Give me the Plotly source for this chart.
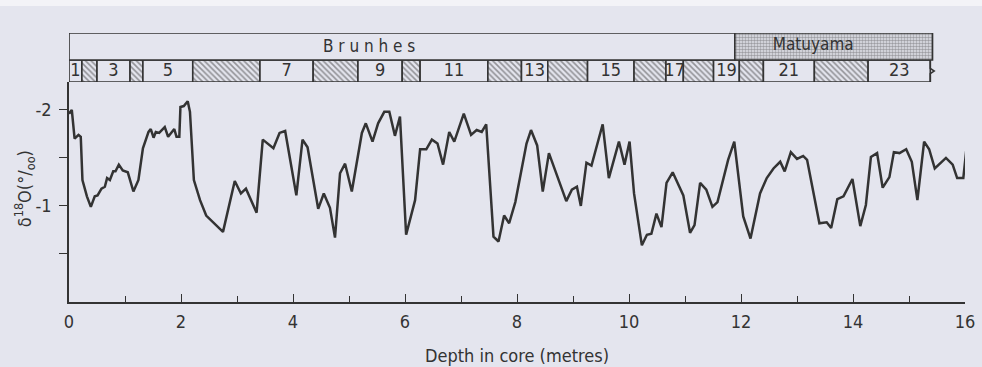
import plotly.graph_objects as go

# Oxygen-isotope record against depth in the core
depth = [0.00, 0.05, 0.10, 0.17, 0.21, 0.24, 0.32, 0.39, 0.46, 0.51, 0.58, 0.64, 0.68, 0.73,
         0.79, 0.83, 0.89, 0.96, 1.05, 1.15, 1.24, 1.32, 1.42, 1.46, 1.51, 1.55, 1.61, 1.71,
         1.77, 1.82, 1.88, 1.92, 1.97, 1.99, 2.05, 2.12, 2.16, 2.23, 2.34, 2.45, 2.75, 2.96,
         3.07, 3.16, 3.35, 3.46, 3.65, 3.76, 3.86, 4.06, 4.17, 4.26, 4.45, 4.55, 4.66, 4.75,
         4.84, 4.93, 5.05, 5.23, 5.30, 5.42, 5.52, 5.63, 5.72, 5.82, 5.91, 6.02, 6.18, 6.27,
         6.38, 6.48, 6.58, 6.68, 6.79, 6.88, 7.05, 7.18, 7.28, 7.37, 7.45, 7.58, 7.67, 7.77,
         7.86, 7.97, 8.17, 8.25, 8.36, 8.46, 8.57, 8.88, 8.98, 9.07, 9.14, 9.24, 9.33, 9.53,
         9.64, 9.82, 9.92, 10.01, 10.09, 10.23, 10.32, 10.40, 10.49, 10.58, 10.67, 10.78,
         10.97, 11.09, 11.17, 11.27, 11.38, 11.49, 11.58, 11.77, 11.88, 12.04, 12.17, 12.34,
         12.46, 12.58, 12.70, 12.78, 12.89, 13.00, 13.11, 13.18, 13.40, 13.53, 13.61, 13.72,
         13.83, 13.99, 14.13, 14.23, 14.32, 14.43, 14.53, 14.65, 14.73, 14.83, 14.95, 15.05,
         15.15, 15.27, 15.36, 15.46, 15.66, 15.78, 15.86, 15.97, 16.03]
d18o = [-1.96, -2.00, -1.70, -1.74, -1.72, -1.27, -1.10, -0.99, -1.10, -1.11, -1.18, -1.20,
        -1.29, -1.27, -1.36, -1.36, -1.43, -1.37, -1.35, -1.15, -1.27, -1.60, -1.77, -1.80,
        -1.71, -1.77, -1.76, -1.82, -1.72, -1.76, -1.80, -1.72, -1.72, -2.03, -2.04, -2.09,
        -1.98, -1.27, -1.06, -0.90, -0.73, -1.26, -1.13, -1.18, -0.93, -1.69, -1.60, -1.76,
        -1.78, -1.11, -1.69, -1.61, -0.97, -1.13, -0.98, -0.67, -1.34, -1.44, -1.15, -1.76,
        -1.86, -1.67, -1.86, -1.98, -1.98, -1.73, -1.93, -0.70, -1.06, -1.59, -1.59, -1.69,
        -1.65, -1.43, -1.77, -1.67, -1.96, -1.74, -1.79, -1.77, -1.85, -0.68, -0.63, -0.90,
        -0.82, -1.04, -1.65, -1.79, -1.63, -1.15, -1.55, -1.05, -1.17, -1.20, -1.00, -1.45,
        -1.42, -1.85, -1.29, -1.67, -1.43, -1.67, -1.13, -0.59, -0.70, -0.71, -0.92, -0.78,
        -1.24, -1.35, -1.11, -0.72, -0.80, -1.24, -1.17, -0.99, -1.04, -1.48, -1.67, -0.89,
        -0.66, -1.13, -1.29, -1.39, -1.46, -1.36, -1.56, -1.49, -1.52, -1.48, -0.82, -0.83,
        -0.77, -1.07, -1.10, -1.28, -0.79, -1.01, -1.51, -1.55, -1.19, -1.30, -1.56, -1.55,
        -1.59, -1.46, -1.06, -1.67, -1.59, -1.39, -1.50, -1.43, -1.29, -1.29, -1.62]

# Isotope stage boundaries (m) for stages 1..23
stage_bounds = [0.00, 0.23, 0.50, 1.09, 1.32, 2.21, 3.41, 4.36, 5.16, 5.95, 6.27, 7.48, 8.08,
                8.55, 9.26, 10.09, 10.66, 10.97, 11.51, 11.97, 12.40, 13.31, 14.27, 15.38]
stage_numbers = list(range(1, 24))

# Magnetic epochs
epoch_names = ["B r u n h e s", "Matuyama"]
epoch_bounds = [0.00, 11.89, 15.42]
epoch_label_x = [5.36, 13.29]

x_tickvals = list(range(0, 17, 2))
x_ticktext = [str(v) for v in x_tickvals]
y_tickvals = [-2, -1]
y_ticktext = ["-2", "-1"]
y_minorvals = [-1.5, -0.5]

BG = "#e4e5ee"
INK = "#333333"
FONT = "Liberation Sans Narrow, DejaVu Sans Condensed, Roboto Condensed, Liberation Sans, sans-serif"

fig = go.Figure()

fig.add_trace(go.Scatter(
    x=depth, y=d18o, mode="lines",
    line=dict(color=INK, width=2.5), xaxis="x", yaxis="y", showlegend=False,
))

# Stage strip: even (glacial) stages hatched
s_mid = [(a + b) / 2 for a, b in zip(stage_bounds[:-1], stage_bounds[1:])]
s_wid = [b - a for a, b in zip(stage_bounds[:-1], stage_bounds[1:])]
fig.add_trace(go.Bar(
    x=s_mid, width=s_wid, y=[1] * len(s_mid), base=[0] * len(s_mid),
    xaxis="x", yaxis="y2", showlegend=False, hoverinfo="skip",
    marker=dict(
        color=BG,
        line=dict(color=INK, width=1.6),
        pattern=dict(shape=["\\" if n % 2 == 0 else "" for n in stage_numbers],
                     fgcolor="#404040", bgcolor=BG, size=4, solidity=0.4),
    ),
))

# Magnetic epoch strip
e_mid = [(a + b) / 2 for a, b in zip(epoch_bounds[:-1], epoch_bounds[1:])]
e_wid = [b - a for a, b in zip(epoch_bounds[:-1], epoch_bounds[1:])]
fig.add_trace(go.Bar(
    x=e_mid, width=e_wid, y=[1.23] * len(e_mid), base=[1] * len(e_mid),
    xaxis="x", yaxis="y2", showlegend=False, hoverinfo="skip",
    marker=dict(
        color=BG,
        line=dict(color=INK, width=1.6),
        pattern=dict(shape=["", "."], fgcolor="#555555", bgcolor=BG, size=3, solidity=0.55),
    ),
))

# Odd stage numbers
odd_x = [m for m, n in zip(s_mid, stage_numbers) if n % 2 == 1]
odd_t = [str(n) for n in stage_numbers if n % 2 == 1]
fig.add_trace(go.Scatter(
    x=odd_x, y=[0.5] * len(odd_x), mode="text", text=odd_t,
    textfont=dict(family=FONT, size=18, color=INK),
    xaxis="x", yaxis="y2", showlegend=False, hoverinfo="skip", cliponaxis=False,
))

# Epoch names
fig.add_trace(go.Scatter(
    x=epoch_label_x, y=[1.58, 1.66], mode="text", text=epoch_names,
    textfont=dict(family=FONT, size=17, color=INK),
    xaxis="x", yaxis="y2", showlegend=False, hoverinfo="skip", cliponaxis=False,
))

# Break mark closing the stage strip
end = stage_bounds[-1]
fig.add_shape(type="path", xref="x", yref="y2",
              path=f"M {end},1 L {end},0.62 L {end + 0.07},0.5 L {end},0.38 L {end},0",
              line=dict(color=INK, width=1.6))

fig.add_shape(type="rect", xref="paper", yref="paper", x0=-0.1, x1=1.1, y0=1.1, y1=1.2,
              fillcolor="#f3f3f7", line=dict(width=0), layer="below")

fig.add_annotation(
    text="δ<sup>18</sup>O(°/<sub>oo</sub>)", textangle=-90,
    xref="paper", yref="paper", x=-0.05, y=0.42, xanchor="center", yanchor="middle",
    showarrow=False, font=dict(family=FONT, size=18, color=INK),
)

fig.update_layout(
    width=982, height=367,
    margin=dict(l=69, r=17, t=33, b=65, pad=0, autoexpand=False),
    paper_bgcolor=BG, plot_bgcolor=BG,
    barmode="overlay",
    font=dict(family=FONT, size=18, color=INK),
    xaxis=dict(
        range=[0, 16], showgrid=False, zeroline=False, automargin=False,
        showline=True, linecolor=INK, linewidth=1.6,
        ticks="inside", ticklen=8, tickwidth=1.4, tickcolor=INK,
        tickvals=x_tickvals, ticktext=x_ticktext, ticklabelstandoff=3,
        minor=dict(dtick=1, ticks="inside", ticklen=6, tickwidth=1.4, tickcolor=INK, showgrid=False),
        title=dict(text="Depth in core (metres)", font=dict(family=FONT, size=18, color=INK), standoff=18),
        anchor="y",
    ),
    yaxis=dict(
        domain=[0, 0.8178], range=[0, -2.29], showgrid=False, zeroline=False, automargin=False,
        showline=True, linecolor=INK, linewidth=1.6,
        ticks="outside", ticklen=8, tickwidth=1.4, tickcolor=INK,
        tickvals=y_tickvals, ticktext=y_ticktext, ticklabelstandoff=4,
        minor=dict(tickvals=y_minorvals, ticks="outside", ticklen=8, tickwidth=1.4,
                   tickcolor=INK, showgrid=False),
        anchor="x",
    ),
    yaxis2=dict(domain=[0.8178, 1.0], range=[0, 2.23], visible=False, anchor="x"),
)

fig.write_html("out.html")
